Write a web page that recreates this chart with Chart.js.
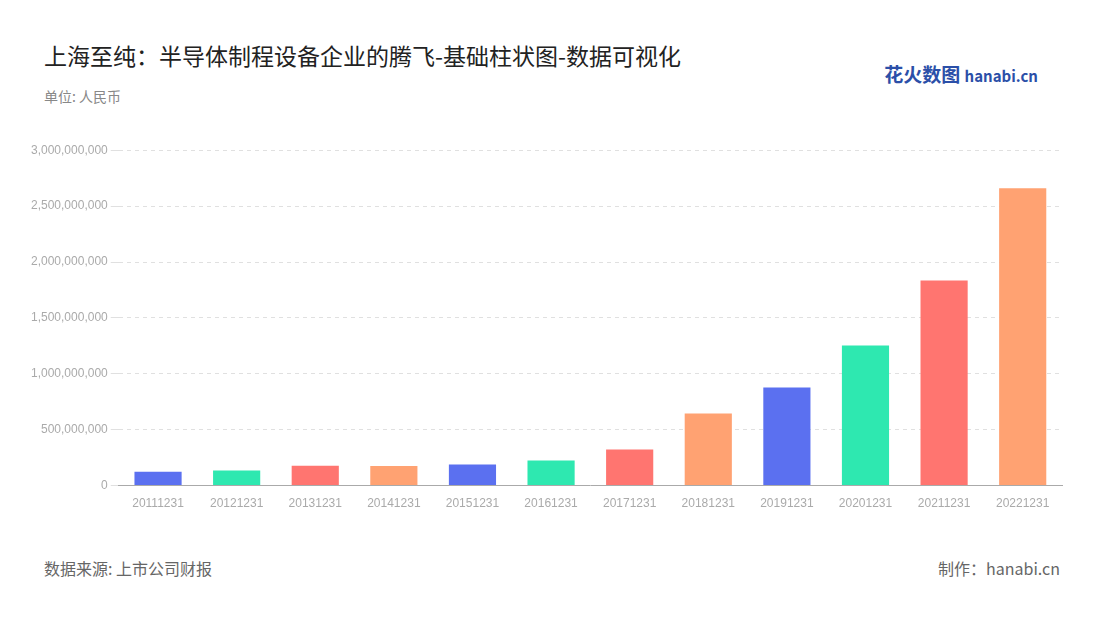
<!DOCTYPE html>
<html><head><meta charset="utf-8">
<script src="https://cdn.jsdelivr.net/npm/chart.js@4/dist/chart.umd.min.js"></script>
<style>
body{margin:0;width:1100px;height:620px;background:#fff;font-family:"Noto Sans CJK SC","Noto Sans",sans-serif;position:relative;overflow:hidden}
#t{position:absolute;left:44px;top:38px;font-size:23px;color:#222}
#u{position:absolute;left:44px;top:86px;font-size:14px;color:#888}
#s{position:absolute;left:44px;top:556px;font-size:16px;color:#666}
#m{position:absolute;right:40px;top:556px;font-size:16px;color:#666}
#logo{position:absolute;right:62px;top:60px;font-size:19px;font-weight:bold;color:#2b4fa8}
#logo span{font-size:15px;color:#2b4fa8}
#c{position:absolute;left:0;top:140px;width:1100px;height:374px}
</style></head><body>
<div id="t">上海至纯：半导体制程设备企业的腾飞-基础柱状图-数据可视化</div>
<div id="u">单位: 人民币</div>
<div id="logo">花火数图 <span>hanabi.cn</span></div>
<div id="c"><canvas id="cv"></canvas></div>
<div id="s">数据来源: 上市公司财报</div>
<div id="m">制作：hanabi.cn</div>
<script>
const categories=["20111231","20121231","20131231","20141231","20151231","20161231","20171231","20181231","20191231","20201231","20211231","20221231"];
const values=[125000000,134000000,177000000,175000000,188000000,224000000,322000000,645000000,877000000,1253000000,1835000000,2659000000];
const palette=["#5b70f0","#2ee8b0","#ff7570","#ffa272"];
new Chart(document.getElementById('cv'),{type:'bar',
data:{labels:categories,datasets:[{data:values,backgroundColor:categories.map((_,i)=>palette[i%4]),categoryPercentage:0.6,barPercentage:1}]},
options:{responsive:true,maintainAspectRatio:false,animation:false,
layout:{padding:{left:28,right:38,top:10,bottom:0}},
plugins:{legend:{display:false},tooltip:{enabled:false}},
scales:{x:{grid:{display:false},border:{color:'#aaa'},ticks:{color:'#aaa',font:{size:12}}},
y:{min:0,max:3000000000,ticks:{stepSize:500000000,color:'#aaa',font:{size:12},callback:v=>v.toLocaleString('en-US')},
grid:{color:'#e0e0e0'},border:{display:false,dash:[4,4]}}}}});
</script></body></html>
